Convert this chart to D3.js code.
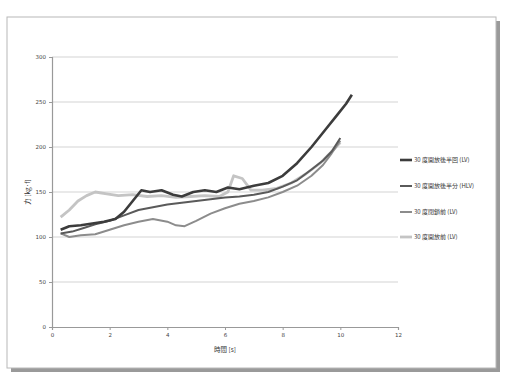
<!DOCTYPE html>
<html><head><meta charset="utf-8">
<script src="https://cdn.jsdelivr.net/npm/d3@7/dist/d3.min.js"></script>
<style>body{margin:0;background:#fff;}svg{display:block;font-family:"Noto Sans CJK JP","DejaVu Sans",sans-serif;}</style>
</head><body><svg id="c" width="505" height="376"></svg>
<script>
const xTicks = [0, 2, 4, 6, 8, 10, 12];
const yTicks = [0, 50, 100, 150, 200, 250, 300];
const seriesNames = ["30 度開放後半回 (LV)", "30 度開放後半分 (HLV)", "30 度閉鎖前 (LV)", "30 度開放前 (LV)"];
const sAx = [0.3,0.6,1.0,1.4,1.8,2.2,2.5,2.8,3.1,3.4,3.8,4.2,4.5,4.9,5.3,5.7,6.1,6.5,7.0,7.5,8.0,8.5,9.0,9.5,9.9,10.2,10.4];
const sAy = [108,112,113,115,117,120,128,140,152,150,152,147,145,150,152,150,155,153,157,160,168,182,200,220,236,248,258];
const sBx = [0.3,0.7,1.1,1.5,2.0,2.5,3.0,3.5,4.0,4.5,5.0,5.5,6.0,6.5,7.0,7.5,8.0,8.5,9.0,9.4,9.7,10.0];
const sBy = [104,106,110,114,118,124,130,133,136,138,140,142,144,145,147,150,156,163,175,185,195,210];
const sCx = [0.3,0.6,1.0,1.5,2.0,2.5,3.0,3.5,4.0,4.3,4.6,5.0,5.5,6.0,6.5,7.0,7.5,8.0,8.5,9.0,9.4,9.7,10.0];
const sCy = [104,100,102,103,108,113,117,120,117,113,112,118,126,132,137,140,144,150,157,168,180,193,207];
const sDx = [0.3,0.6,0.9,1.2,1.5,1.9,2.3,2.8,3.3,3.8,4.3,4.8,5.3,5.8,6.1,6.3,6.6,6.9,7.3,7.8,8.3,8.8,9.3,9.7,10.0];
const sDy = [122,130,140,146,150,148,146,147,145,146,144,145,146,145,150,168,165,152,152,154,160,170,182,195,205];

const svg = d3.select("#c");
// outer frame with shadow
svg.append("rect").attr("x",11).attr("y",21).attr("width",489).attr("height",351).attr("fill","#9a9a9a");
svg.append("rect").attr("x",7).attr("y",17).attr("width",489).attr("height",351).attr("fill","#fff").attr("stroke","#b8b8b8").attr("stroke-width",1);

const x = d3.scaleLinear().domain([0,12]).range([52,398]);
const y = d3.scaleLinear().domain([0,300]).range([327,57]);

// grid
svg.append("g").selectAll("line").data(yTicks.filter(d=>d>0)).join("line")
  .attr("x1",52).attr("x2",398).attr("y1",d=>y(d)).attr("y2",d=>y(d))
  .attr("stroke","#d4d4d4").attr("stroke-width",1.2);

const gx = svg.append("g").attr("transform","translate(0,327)")
  .call(d3.axisBottom(x).tickValues(xTicks).tickSize(3).tickFormat(d3.format("d")));
const gy = svg.append("g").attr("transform","translate(52,0)")
  .call(d3.axisLeft(y).tickValues(yTicks).tickSize(3).tickFormat(d3.format("d")));
[gx,gy].forEach(g=>{
  g.select(".domain").attr("stroke","#999").attr("stroke-width",1.2);
  g.selectAll(".tick line").attr("stroke","#999");
  g.selectAll("text").attr("font-size",5.5).attr("fill","#444").attr("font-family","DejaVu Sans");
});

svg.append("text").attr("x",x(6)).attr("y",352).attr("text-anchor","middle")
  .attr("font-size",6.5).attr("fill","#333").text("時間 [s]");
svg.append("text").attr("transform","translate(30,"+y(150)+") rotate(-90)").attr("text-anchor","middle")
  .attr("font-size",6.5).attr("fill","#333").text("力 [kg·f]");

const series = [
  {xs:sAx, ys:sAy, color:"#3c3c3c", w:2.6},
  {xs:sBx, ys:sBy, color:"#5a5a5a", w:2.0},
  {xs:sCx, ys:sCy, color:"#8c8c8c", w:2.0},
  {xs:sDx, ys:sDy, color:"#c4c4c4", w:2.8}
];
const line = d3.line().x(d=>x(d[0])).y(d=>y(d[1]));
// draw back to front
[3,2,1,0].forEach(i=>{
  const s = series[i];
  svg.append("path").datum(s.xs.map((v,k)=>[v,s.ys[k]]))
    .attr("d",line).attr("fill","none").attr("stroke",s.color)
    .attr("stroke-width",s.w).attr("stroke-linejoin","round");
});

const legY = [160,186,212,237];
series.forEach((s,i)=>{
  svg.append("line").attr("x1",400).attr("x2",412).attr("y1",legY[i]).attr("y2",legY[i])
    .attr("stroke",s.color).attr("stroke-width",s.w);
  svg.append("text").attr("x",414).attr("y",legY[i]+2.2).attr("font-size",6)
    .attr("fill","#333").text(seriesNames[i]);
});
</script></body></html>
